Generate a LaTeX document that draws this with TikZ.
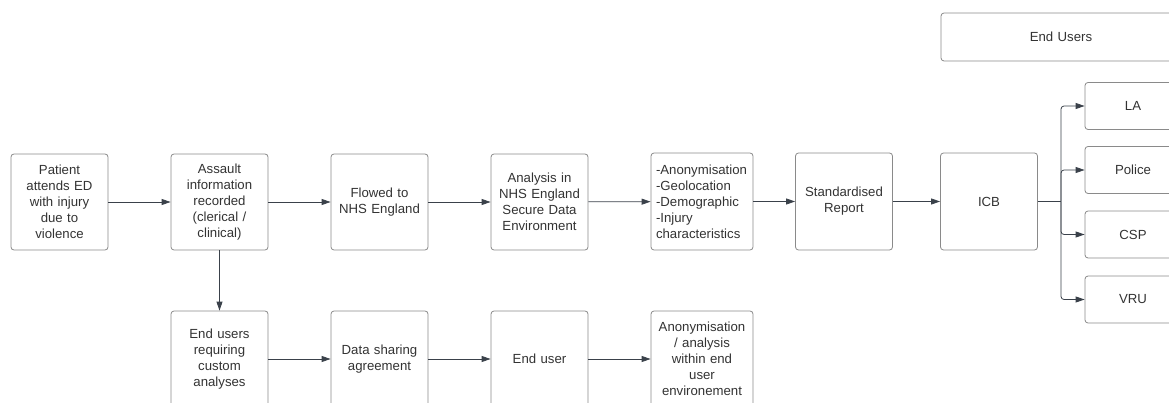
\documentclass[tikz,border=0pt]{standalone}
\usepackage{fontspec}
\setmainfont{Liberation Sans}
\usetikzlibrary{arrows.meta}
\definecolor{boxline}{HTML}{8A8A8A}
\definecolor{arrowc}{HTML}{3A414A}
\definecolor{txt}{HTML}{333333}
\tikzset{
  box/.style={draw=boxline, line width=0.8pt, rounded corners=3pt, fill=white,
    minimum width=97pt, minimum height=96pt, text width=88pt, align=center,
    inner xsep=4pt, text=txt, font=\fontsize{13.2}{16}\selectfont},
  smallbox/.style={box, minimum width=94pt, minimum height=47pt},
  conn/.style={draw=arrowc, line width=0.8pt, -{Triangle[length=9pt,width=6pt]}},
  plain/.style={draw=arrowc, line width=0.8pt}
}
\begin{document}
\begin{tikzpicture}[x=1pt,y=-1pt]
\useasboundingbox (0,0) rectangle (1169,403);
% top row
\node[box] (p1) at (59.5,202) {Patient\\attends ED\\with injury\\due to\\violence};
\node[box] (p2) at (219.5,202) {Assault\\information\\recorded\\(clerical /\\clinical)};
\node[box] (p3) at (379.5,202) {Flowed to\\NHS England};
\node[box] (p4) at (539.5,202) {Analysis in\\NHS England\\Secure Data\\Environment};
\node[box, minimum width=102pt, minimum height=97pt, text width=92pt, inner xsep=5pt, align=left] (p5) at (702,201.5) {-Anonymisation\\-Geolocation\\-Demographic\\-Injury\\characteristics};
\node[box, minimum height=97pt] (p6) at (844,201.5) {Standardised\\Report};
\node[box, minimum height=97pt] (icb) at (989,201.5) {ICB};
% end users
\node[box, minimum width=240pt, minimum height=48pt, text width=200pt] (eu) at (1061,37) {End Users};
\node[smallbox] (la) at (1133,106) {LA};
\node[smallbox] (police) at (1133,170) {Police};
\node[smallbox] (csp) at (1133,234.5) {CSP};
\node[smallbox] (vru) at (1133,299.5) {VRU};
% bottom row
\node[box] (b1) at (219.5,359) {End users\\requiring\\custom\\analyses};
\node[box] (b2) at (379.5,359) {Data sharing\\agreement};
\node[box] (b3) at (539.5,359) {End user};
\node[box, minimum width=102pt, text width=92pt, inner xsep=5pt] (b4) at (702,359) {Anonymisation\\/ analysis\\within end\\user\\environement};
% connectors
\draw[conn] (p1) -- (p2);
\draw[conn] (p2) -- (p3);
\draw[conn] (p3) -- (p4);
\draw[conn] (p4) -- (p5);
\draw[conn] (p5) -- (p6);
\draw[conn] (p6) -- (icb);
\draw[conn] (p2) -- (b1);
\draw[conn] (b1) -- (b2);
\draw[conn] (b2) -- (b3);
\draw[conn] (b3) -- (b4);
\coordinate (br) at (1061,201.5);
\draw[plain] (icb.east) -- (br);
\draw[conn, rounded corners=3pt] (br) |- (la.west);
\draw[conn, rounded corners=3pt] (br) |- (police.west);
\draw[conn, rounded corners=3pt] (br) |- (csp.west);
\draw[conn, rounded corners=3pt] (br) |- (vru.west);
\end{tikzpicture}
\end{document}
